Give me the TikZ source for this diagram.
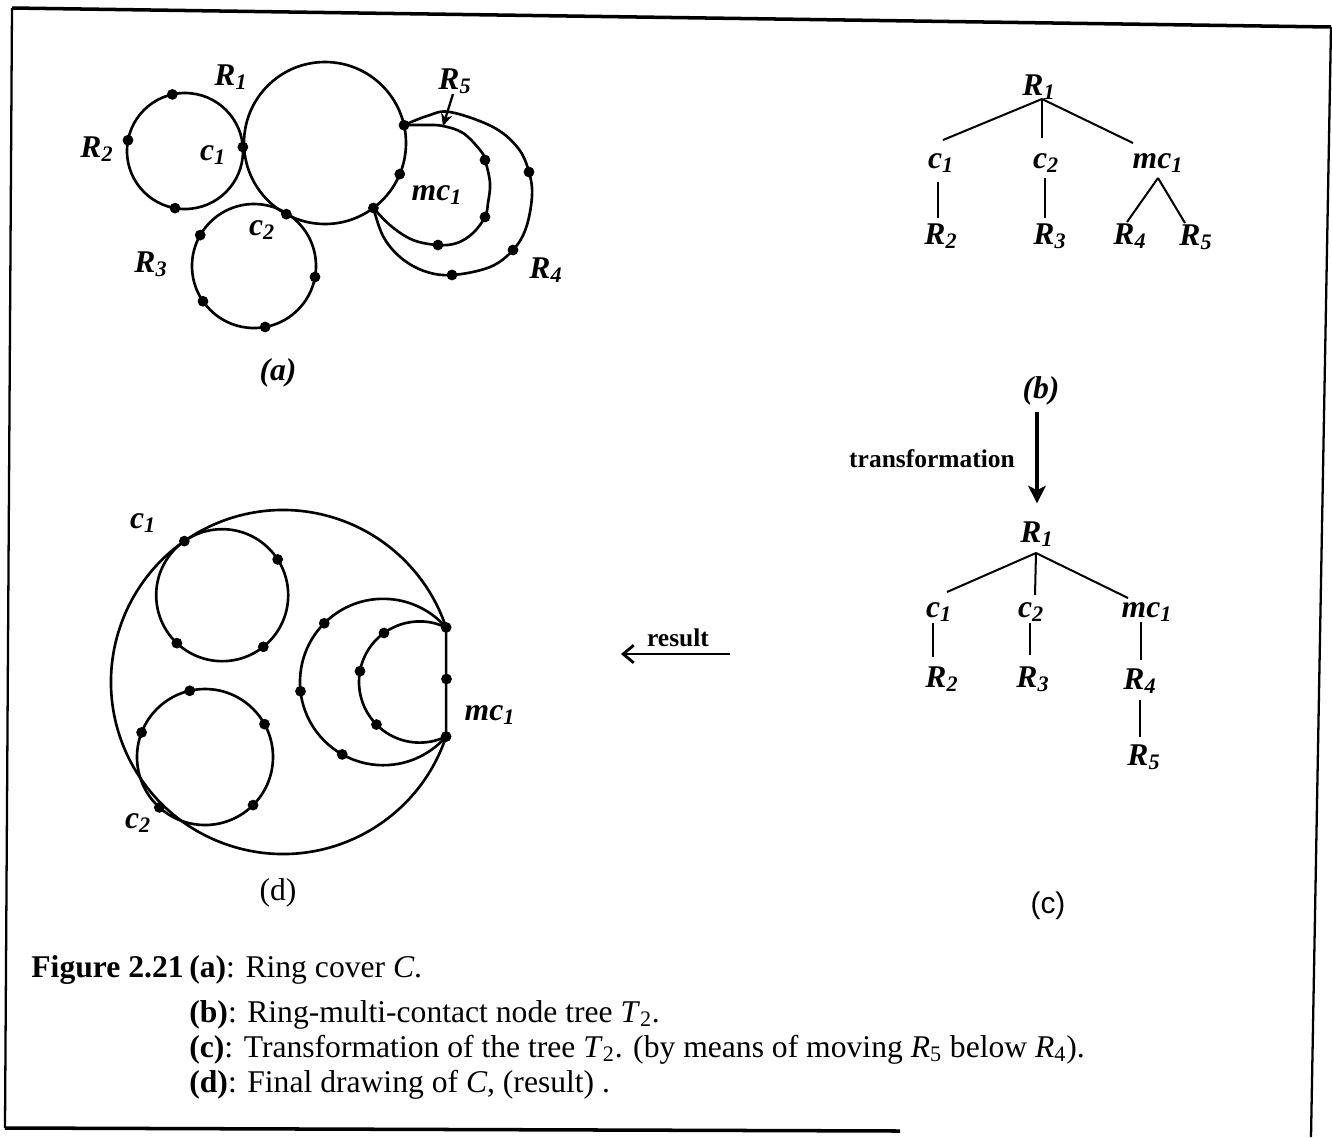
\documentclass[tikz,border=0pt]{standalone}
\usepackage{fontspec}
\setmainfont{Liberation Serif}
\newfontfamily\sansfam{Liberation Sans}
\usetikzlibrary{arrows.meta,calc}

\newcommand\labfont{\fontsize{18}{21}\selectfont\bfseries\itshape}
\newcommand\capfont{\fontsize{18}{22}\selectfont}
\newcommand\notefont{\fontsize{14.5}{17}\selectfont\bfseries}
% a contact point sitting on a ring: centre, angle, radius
\newcommand\ringdot[3]{\fill (#1) ++(#2:#3) circle[radius=5.4];}
\newcommand\spot[1]{\fill (#1) circle[radius=5.4];}

\begin{document}
\begin{tikzpicture}[x=0.02cm, y=-0.02cm,
  ring/.style={line width=1.5pt},
  link/.style={line width=1.15pt},
  lab/.style={font=\labfont, inner sep=0pt, anchor=base},
  capline/.style={font=\capfont, inner sep=0pt, anchor=base west},
  note/.style={font=\notefont, inner sep=0pt, anchor=base},
]
\useasboundingbox (0,0) rectangle (1332,1137);

% ---------- frame ----------
\draw[line width=2pt] (12,8) -- (1331,27);
\draw[line width=1.3pt] (12,8) -- (5,1128);
\draw[line width=1.3pt] (1331,27) -- (1311,1137);
\draw[line width=2pt] (5,1128) -- (900,1131);

% ---------- (a) ring cover C ----------
\coordinate (Ra2) at (185,151);
\coordinate (Ra1) at (325,143);
\coordinate (Ra3) at (254,266);
\draw[ring] (Ra2) circle[radius=58];
\draw[ring] (Ra1) circle[radius=81];
\draw[ring] (Ra3) circle[radius=62];
\coordinate (mcA) at ($(Ra1)+(-12.7:81)$);
\coordinate (mcB) at ($(Ra1)+(53.3:81)$);
% R4: outer ring through the multi-contact
\draw[ring] plot[smooth, tension=0.6] coordinates {(mcA) (427,116) (450,112) (493,127) (518,148) (529,172) (532,196) (526,228) (513,250) (490,267) (452,275) (424,271) (400,257) (383,236) (mcB)};
% R5: inner ring through the multi-contact
\draw[ring] plot[smooth, tension=0.6] coordinates {(mcA) (427,125) (443,126) (463,133) (480,150) (485,160) (490,183) (488,203) (485,217) (473,233) (457,243) (438,245) (413,240) (391,226) (mcB)};

\ringdot{Ra2}{257.4}{58} \ringdot{Ra2}{190.7}{58} \ringdot{Ra2}{-3.9}{58} \ringdot{Ra2}{99.9}{58}
\ringdot{Ra1}{-12.7}{81} \ringdot{Ra1}{22.6}{81} \ringdot{Ra1}{53.3}{81} \ringdot{Ra1}{118.5}{81}
\ringdot{Ra3}{209.9}{62} \ringdot{Ra3}{10.2}{62} \ringdot{Ra3}{145.3}{62} \ringdot{Ra3}{79.6}{62}
\spot{529,172} \spot{513,250} \spot{452,275}
\spot{485,160} \spot{485,217} \spot{438,245}

\node[lab] (R1a) at (231,85) {R\textsubscript{1}};
\node[lab] (R2a) at (97,157) {R\textsubscript{2}};
\node[lab] (c1a) at (213,160) {c\textsubscript{1}};
\node[lab] (c2a) at (262,235) {c\textsubscript{2}};
\node[lab] (R3a) at (151,272) {R\textsubscript{3}};
\node[lab] (mc1a) at (437,200) {mc\textsubscript{1}};
\node[lab] (R4a) at (546,278) {R\textsubscript{4}};
\node[lab] (R5a) at (455,89) {R\textsubscript{5}};
\coordinate (R5tip) at (443,126);
\draw[line width=1.3pt, -{Stealth[length=7pt,width=6.5pt]}] ($(R5a.base)+(-2,5)$) -- (R5tip);
\node[lab] (alab) at (278,380) {(a)};

% ---------- (b) ring-multi-contact node tree ----------
\node[lab] (R1b) at (1039,95) {R\textsubscript{1}};
\node[lab] (c1b) at (941,168) {c\textsubscript{1}};
\node[lab] (c2b) at (1046,168) {c\textsubscript{2}};
\node[lab] (mc1b) at (1158,168) {mc\textsubscript{1}};
\node[lab] (R2b) at (941,244) {R\textsubscript{2}};
\node[lab] (R3b) at (1050,244) {R\textsubscript{3}};
\node[lab] (R4b) at (1130,244) {R\textsubscript{4}};
\node[lab] (R5b) at (1196,245) {R\textsubscript{5}};
\draw[link] ($(R1b.base)+(3,4)$) -- ($(c1b.base)+(2,-28)$);
\draw[link] ($(R1b.base)+(3,4)$) -- ($(c2b.base)+(-4,-30)$);
\draw[link] ($(R1b.base)+(3,4)$) -- ($(mc1b.base)+(-25,-25)$);
\draw[link] ($(c1b.base)+(-3,14)$) -- ($(R2b.base)+(-3,-26)$);
\draw[link] ($(c2b.base)+(-1,10)$) -- ($(R3b.base)+(-5,-26)$);
\draw[link] ($(mc1b.base)+(0,10)$) -- ($(R4b.base)+(-3,-22)$);
\draw[link] ($(mc1b.base)+(0,10)$) -- ($(R5b.base)+(-11,-22)$);
\node[lab] (blab) at (1041,398) {(b)};

% ---------- transformation ----------
\node[lab] (R1c) at (1037,542) {R\textsubscript{1}};
\draw[line width=1.8pt, -{Stealth[length=10pt,width=10pt,inset=2.5pt]}, shorten <=4pt, shorten >=10pt]
  (blab.south -| R1c.north) -- (R1c.north);
\node[note] (trans) at (932,467) {transformation};

% ---------- (c) transformed tree ----------
\node[lab] (c1c) at (939,617) {c\textsubscript{1}};
\node[lab] (c2c) at (1031,617) {c\textsubscript{2}};
\node[lab] (mc1c) at (1147,617) {mc\textsubscript{1}};
\node[lab] (R2c) at (942,687) {R\textsubscript{2}};
\node[lab] (R3c) at (1033,687) {R\textsubscript{3}};
\node[lab] (R4c) at (1140,689) {R\textsubscript{4}};
\node[lab] (R5c) at (1144,765) {R\textsubscript{5}};
\draw[link] ($(R1c.base)+(-1,11)$) -- ($(c1c.base)+(8,-25)$);
\draw[link] ($(R1c.base)+(-1,11)$) -- ($(c2c.base)+(4,-22)$);
\draw[link] ($(R1c.base)+(-1,11)$) -- ($(mc1c.base)+(-19,-19)$);
\draw[link] ($(c1c.base)+(-6,6)$) -- ($(R2c.base)+(-9,-30)$);
\draw[link] ($(c2c.base)+(-1,6)$) -- ($(R3c.base)+(-3,-32)$);
\draw[link] ($(mc1c.base)+(-6,5)$) -- ($(R4c.base)+(1,-29)$);
\draw[link] ($(R4c.base)+(0,11)$) -- ($(R5c.base)+(-4,-28)$);
\node[font=\fontsize{17}{20}\selectfont\sansfam, inner sep=0pt, anchor=base] (clab) at (1048,913) {(c)};

% ---------- result ----------
\coordinate (resR) at (730,654);
\coordinate (resL) at (621,654);
\draw[line width=1.6pt, -{Straight Barb[length=6pt,width=10pt]}] (resR) -- (resL);
\node[note] (res) at (678,646) {result};

% ---------- (d) final drawing of C ----------
\coordinate (Cd) at (283,682);
\coordinate (Dc1) at ($(Cd)+(235:106)$);
\coordinate (Dc2) at (205,757);
\coordinate (D4) at (383.2,682);
\coordinate (D5) at (419.6,682);
\draw[ring] (Cd) ++(18.5:172) arc[start angle=18.5, end angle=341.5, radius=172] -- cycle;
\draw[ring] (Dc1) circle[radius=66];
\draw[ring] (Dc2) circle[radius=68];
\draw[ring] (D4) ++(-41:83.2) arc[start angle=-41, end angle=-319, radius=83.2];
\draw[ring] (D5) ++(-64.2:60.6) arc[start angle=-64.2, end angle=-295.8, radius=60.6];

\ringdot{Dc1}{235}{66} \ringdot{Dc1}{-32.8}{66} \ringdot{Dc1}{133.4}{66} \ringdot{Dc1}{51.5}{66}
\ringdot{Dc2}{132.2}{68} \ringdot{Dc2}{-103}{68} \ringdot{Dc2}{-28.9}{68} \ringdot{Dc2}{201.2}{68} \ringdot{Dc2}{45}{68}
\ringdot{D4}{224.9}{83.2} \ringdot{D4}{173.6}{83.2} \ringdot{D4}{119.5}{83.2}
\ringdot{D5}{234}{60.6} \ringdot{D5}{190.3}{60.6} \ringdot{D5}{135.4}{60.6}
\ringdot{Cd}{-18.5}{172} \ringdot{Cd}{18.5}{172} \spot{446.5,679}

\node[lab] (c1d) at (143,528) {c\textsubscript{1}};
\node[lab] (c2d) at (138,828) {c\textsubscript{2}};
\node[lab] (mc1d) at (490,720) {mc\textsubscript{1}};
\node[font=\capfont, inner sep=0pt, anchor=base] (dlab) at (278,900) {(d)};

% ---------- caption ----------
\node[font=\capfont, inner sep=0pt, anchor=base east] (figno) at (184,977) {\textbf{Figure 2.21}};
\node[capline] (capa) at (189,977) {\textbf{(a)}: Ring cover \textit{C}.};
\node[capline] (capb) at (189,1022) {\textbf{(b)}: Ring-multi-contact node tree \textit{T}\textsubscript{2}.};
\node[capline] (capc) at (189,1057) {\textbf{(c)}: Transformation of the tree \textit{T}\textsubscript{2}. (by means of moving \textit{R}\textsubscript{5} below \textit{R}\textsubscript{4}).};
\node[capline] (capd) at (189,1092) {\textbf{(d)}: Final drawing of \textit{C}, (result) .};
\end{tikzpicture}
\end{document}
